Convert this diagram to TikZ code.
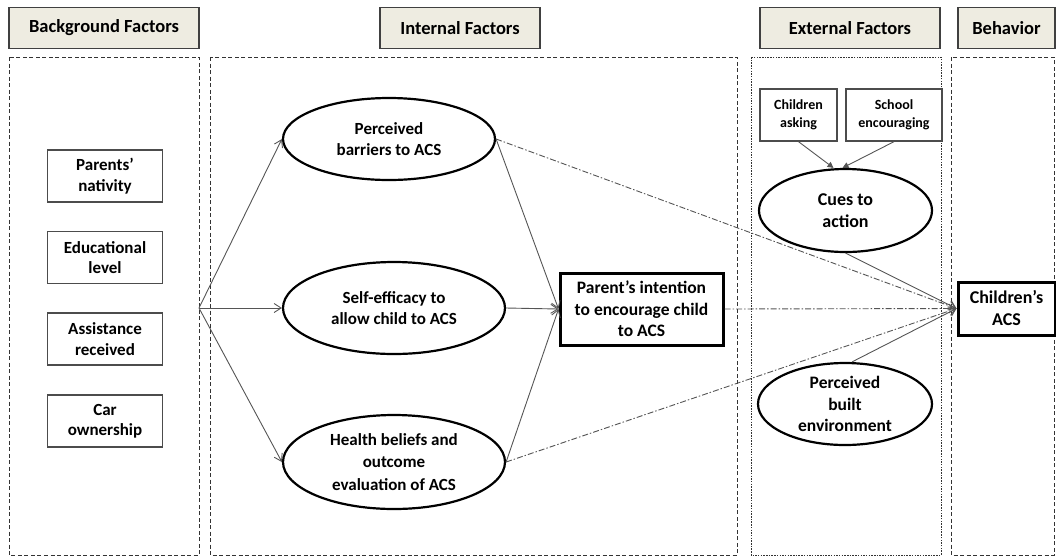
\documentclass[tikz,border=0pt]{standalone}
\usepackage{fontspec}
\setmainfont{Carlito}
\usetikzlibrary{shapes.geometric,arrows.meta}
\definecolor{hdrfill}{HTML}{EEECE1}
\definecolor{linegray}{HTML}{555555}
\begin{document}
\begin{tikzpicture}[x=1pt,y=-1pt,
  header/.style={draw=black!75, line width=1.3pt, fill=hdrfill, minimum height=41pt,
    inner sep=0pt, font=\fontsize{18.5}{22}\selectfont\bfseries},
  frame/.style={draw=black!80, line width=0.9pt, dash pattern=on 4pt off 2.5pt},
  dotframe/.style={draw=black!80, line width=0.9pt, dash pattern=on 1.5pt off 1.2pt},
  factor/.style={draw=black!70, line width=1.3pt, minimum width=115pt, minimum height=52pt,
    inner sep=0pt, align=center, font=\fontsize{17}{20.5}\selectfont\bfseries},
  cue/.style={draw=black!70, line width=1.3pt, minimum height=52pt, inner sep=0pt,
    align=center, font=\fontsize{14}{18.5}\selectfont\bfseries},
  construct/.style={ellipse, draw=black, line width=2.2pt, inner sep=0pt, align=center,
    font=\fontsize{17}{21}\selectfont\bfseries},
  keybox/.style={draw=black, line width=3pt, inner sep=0pt, align=center,
    font=\fontsize{17.5}{21.5}\selectfont\bfseries},
  path/.style={draw=linegray, line width=0.9pt, -{Straight Barb[length=7pt,width=9pt]}},
  dpath/.style={path, dash pattern=on 6pt off 2pt on 1.5pt off 2pt},
  push/.style={draw=linegray, line width=0.9pt, -{Triangle[length=6pt,width=6pt]}}
]
\useasboundingbox (0,0) rectangle (1056,558);

% column headers
\node[header, minimum width=190pt] (hbg)  at (104,28)    {Background Factors};
\node[header, minimum width=160pt] (hint) at (460,28)    {Internal Factors};
\node[header, minimum width=180pt] (hext) at (850,28)    {External Factors};
\node[header, minimum width=97pt]  (hbeh) at (1006.5,28) {Behavior};

% column frames
\draw[frame]    (9,57)   rectangle (199,555);
\draw[frame]    (210,57) rectangle (737,555);
\draw[dotframe] (751,57) rectangle (941,555);
\draw[frame]    (951,57) rectangle (1054,555);

% background factors
\node[factor] (nat) at (105,176)   {Parents’\\nativity};
\node[factor] (edu) at (105,257.5) {Educational\\level};
\node[factor] (ast) at (105,339)   {Assistance\\received};
\node[factor] (car) at (105,421)   {Car\\ownership};
\coordinate (fan) at (199,308);

% internal factors
\node[construct, minimum width=212pt, minimum height=82pt] (bar) at (389,139)
  {Perceived\\barriers to ACS};
\node[construct, minimum width=222pt, minimum height=92pt] (eff) at (394,308)
  {Self-efficacy to\\allow child to ACS};
\node[construct, minimum width=222pt, minimum height=94pt,
  font=\fontsize{17}{22.5}\selectfont\bfseries] (hlt) at (394,462)
  {Health beliefs and\\outcome\\evaluation of ACS};
\node[keybox, minimum width=163pt, minimum height=72pt] (int) at (641.5,309)
  {Parent’s intention\\to encourage child\\to ACS};

% external factors
\node[cue, minimum width=77pt] (ask) at (798.5,115) {Children\\asking};
\node[cue, minimum width=96pt] (sch) at (894,115)   {School\\encouraging};
\node[construct, minimum width=173pt, minimum height=83pt,
  font=\fontsize{18}{22}\selectfont\bfseries] (cue) at (845.5,210.5) {Cues to\\action};
\node[construct, minimum width=174pt, minimum height=82pt,
  font=\fontsize{17.5}{21.5}\selectfont\bfseries] (blt) at (845,404)
  {Perceived\\built\\environment};

% behavior
\node[keybox, minimum width=97pt, minimum height=53pt,
  font=\fontsize{18}{22}\selectfont\bfseries] (acs) at (1006.5,308.5) {Children’s\\ACS};

% background -> internal
\draw[path] (fan) -- (bar.west);
\draw[path] (fan) -- (eff.west);
\draw[path] (fan) -- (hlt.west);

% internal -> intention
\draw[path] (bar.east) -- (int.west);
\draw[path] (eff.east) -- (int.west);
\draw[path] (hlt.east) -- (int.west);

% cues
\draw[push] (ask.south) -- ([xshift=-12pt]cue.north);
\draw[push] (sch.south) -- ([xshift=-3pt]cue.north);

% paths into behavior
\draw[dpath] (int.east) -- (acs.west);
\draw[dpath] (bar.east) -- (acs.west);
\draw[dpath] (hlt.east) -- (acs.west);
\draw[path] (cue.south) -- (acs.west);
\draw[path] ([xshift=7pt]blt.north) -- (acs.west);
\end{tikzpicture}
\end{document}
